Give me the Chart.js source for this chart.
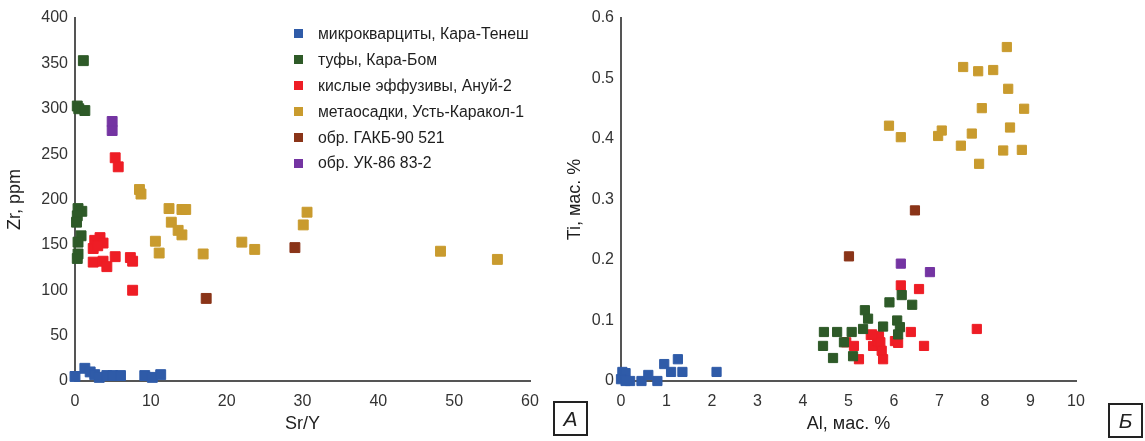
<!DOCTYPE html>
<html lang="ru">
<head>
    <meta charset="UTF-8">
    <title>Zr – Sr/Y и Ti – Al</title>
    <style>
        body {
            margin: 0;
            background: #fff;
            font-family: "Liberation Sans", Arial, sans-serif;
        }
        .wrap {
            position: relative;
            width: 1145px;
            height: 441px;
        }
        .chart-box {
            position: absolute;
            top: 0;
            height: 441px;
        }
        .legend {
            position: absolute;
            left: 294px;
            top: 21px;
            font-size: 15.8px;
            color: #1e1e1e;
        }
        .legend div {
            height: 25.9px;
            display: flex;
            align-items: center;
        }
        .legend span.mark {
            display: inline-block;
            width: 9px;
            height: 9px;
            margin-right: 15px;
        }
        .tag {
            position: absolute;
            border: 2px solid #222;
            font-size: 21px;
            font-style: italic;
            text-align: center;
            color: #222;
            box-sizing: border-box;
        }
    </style>
    <script src="https://cdn.jsdelivr.net/npm/chart.js"></script>
</head>
<body>
<div class="wrap">
    <div class="chart-box" style="left:0;width:560px;"><canvas id="chartA"></canvas></div>
    <div class="chart-box" style="left:560px;width:585px;"><canvas id="chartB"></canvas></div>
    <div class="legend" id="legend"></div>
    <div class="tag" style="left:553px;top:401px;width:35px;height:35px;line-height:31px;">А</div>
    <div class="tag" style="left:1108px;top:403px;width:35px;height:35px;line-height:31px;">Б</div>
</div>
<script>
    const seriesNames = [
        'микрокварциты, Кара-Тенеш',
        'туфы, Кара-Бом',
        'кислые эффузивы, Ануй-2',
        'метаосадки, Усть-Каракол-1',
        'обр. ГАКБ-90 521',
        'обр. УК-86 83-2'
    ];
    const seriesColors = ['#2f5ba8', '#2e5a28', '#ee1d25', '#c99b2e', '#8a3418', '#7434a2'];

    // Chart A: Sr/Y (x) vs Zr, ppm (y)
    const microA = [[0, 5], [1.3, 14], [2, 10], [2.6, 7], [3.2, 4], [4.2, 6], [5, 6], [6, 6], [9.2, 6], [10.2, 4], [11.3, 7]];
    const tuffA = [[1.1, 353], [0.3, 303], [0.5, 300], [1.3, 298], [0.4, 190], [0.9, 187], [0.3, 182], [0.2, 175],
        [0.8, 160], [0.4, 153], [0.4, 140], [0.3, 135]];
    const felsicA = [[5.3, 246], [5.7, 236], [3.3, 158], [2.6, 155], [3.7, 152], [2.4, 146], [3, 149], [2.4, 131],
        [3.7, 132], [4.2, 126], [5.3, 137], [7.3, 136], [7.6, 132], [7.6, 100]];
    const metaA = [[8.5, 211], [8.7, 206], [12.4, 190], [14.1, 189], [14.6, 189], [12.7, 175], [13.6, 166], [14.1, 161],
        [10.6, 154], [11.1, 141], [16.9, 140], [22, 153], [23.7, 145], [30.6, 186], [30.1, 172], [48.2, 143], [55.7, 134]];
    const gakbA = [[17.3, 91], [29, 147]];
    const ukA = [[4.9, 286], [4.9, 276]];

    // Chart Б: Al, мас. % (x) vs Ti, мас. % (y)
    const microB = [[0.03, 0.015], [0.1, 0.013], [0, 0.003], [0.1, 0], [0.2, 0], [0.45, 0], [0.6, 0.01], [0.8, 0],
        [0.95, 0.028], [1.25, 0.036], [1.1, 0.015], [1.35, 0.015], [2.1, 0.015]];
    const tuffB = [[4.46, 0.081], [4.75, 0.081], [5.07, 0.081], [4.44, 0.058], [4.66, 0.038], [4.9, 0.064], [5.1, 0.041],
        [5.36, 0.117], [5.43, 0.103], [5.32, 0.086], [5.76, 0.09], [5.9, 0.13], [6.17, 0.142], [6.4, 0.126],
        [6.07, 0.1], [6.13, 0.089], [6.09, 0.077]];
    const felsicB = [[4.95, 0.064], [5.12, 0.058], [5.23, 0.036], [5.49, 0.076], [5.54, 0.058], [5.63, 0.066], [5.67, 0.074],
        [5.7, 0.064], [5.73, 0.05], [5.76, 0.036], [6.02, 0.066], [6.09, 0.063], [6.37, 0.081], [6.66, 0.058],
        [6.15, 0.158], [6.55, 0.152], [7.82, 0.086], [5.52, 0.077]];
    const metaB = [[8.48, 0.552], [7.52, 0.519], [7.85, 0.512], [8.18, 0.514], [8.51, 0.483], [7.93, 0.451], [8.86, 0.45],
        [5.89, 0.422], [6.15, 0.403], [7.05, 0.414], [6.97, 0.405], [7.71, 0.409], [8.55, 0.419], [7.47, 0.389],
        [8.4, 0.381], [8.81, 0.382], [7.87, 0.359]];
    const gakbB = [[6.46, 0.282], [5.01, 0.206]];
    const ukB = [[6.15, 0.194], [6.79, 0.18]];

    const xTicksA = [0, 10, 20, 30, 40, 50, 60];
    const yTicksA = [0, 50, 100, 150, 200, 250, 300, 350, 400];
    const xTicksB = [0, 1, 2, 3, 4, 5, 6, 7, 8, 9, 10];
    const yTicksB = [0, 0.1, 0.2, 0.3, 0.4, 0.5, 0.6];

    const axisColor = '#555';
    const tickFont = { family: "'Liberation Sans', Arial, sans-serif", size: 16 };
    const titleFont = { family: "'Liberation Sans', Arial, sans-serif", size: 18 };

    function makeDatasets(groups, radius) {
        return groups.map((pts, i) => ({
            label: seriesNames[i],
            data: pts.map(p => ({ x: p[0], y: p[1] })),
            pointStyle: 'rect',
            pointRadius: radius,
            pointHoverRadius: radius,
            backgroundColor: seriesColors[i],
            borderColor: seriesColors[i],
            borderWidth: 1,
            clip: false
        }));
    }

    function makeAxis(ticks, title, horizontal, size) {
        return {
            type: 'linear',
            min: ticks[0],
            max: ticks[ticks.length - 1],
            afterBuildTicks: s => { s.ticks = ticks.map(v => ({ value: v })); },
            afterFit: s => { if (horizontal) s.height = size; else s.width = size; },
            grid: { display: false, drawTicks: false },
            border: { display: true, color: axisColor, width: 2 },
            ticks: {
                color: '#333',
                font: tickFont,
                padding: horizontal ? 11 : 7,
                maxRotation: 0,
                autoSkip: false
            },
            title: {
                display: true,
                text: title,
                color: '#1e1e1e',
                font: titleFont,
                padding: horizontal ? { top: 0, bottom: 6 } : { top: 4, bottom: 0 }
            }
        };
    }

    function makeChart(id, groups, radius, xTicks, yTicks, xTitle, yTitle, yWidth, padRight) {
        new Chart(document.getElementById(id), {
            type: 'scatter',
            data: { datasets: makeDatasets(groups, radius) },
            options: {
                responsive: true,
                maintainAspectRatio: false,
                animation: false,
                layout: { padding: { top: 18, right: padRight, bottom: 0, left: 0 } },
                plugins: { legend: { display: false }, tooltip: { enabled: false } },
                scales: {
                    x: makeAxis(xTicks, xTitle, true, 60),
                    y: makeAxis(yTicks, yTitle, false, yWidth)
                }
            }
        });
    }

    makeChart('chartA', [microA, tuffA, felsicA, metaA, gakbA, ukA], 7,
        xTicksA, yTicksA, 'Sr/Y', 'Zr, ppm', 75, 30);
    makeChart('chartB', [microB, tuffB, felsicB, metaB, gakbB, ukB], 6.5,
        xTicksB, yTicksB, 'Al, мас. %', 'Ti, мас. %', 61, 69);

    // legend inside chart A, built from the same series arrays
    const legend = document.getElementById('legend');
    seriesNames.forEach((name, i) => {
        const row = document.createElement('div');
        row.innerHTML = `<span class="mark" style="background:${seriesColors[i]}"></span>${name}`;
        legend.appendChild(row);
    });
</script>
</body>
</html>
